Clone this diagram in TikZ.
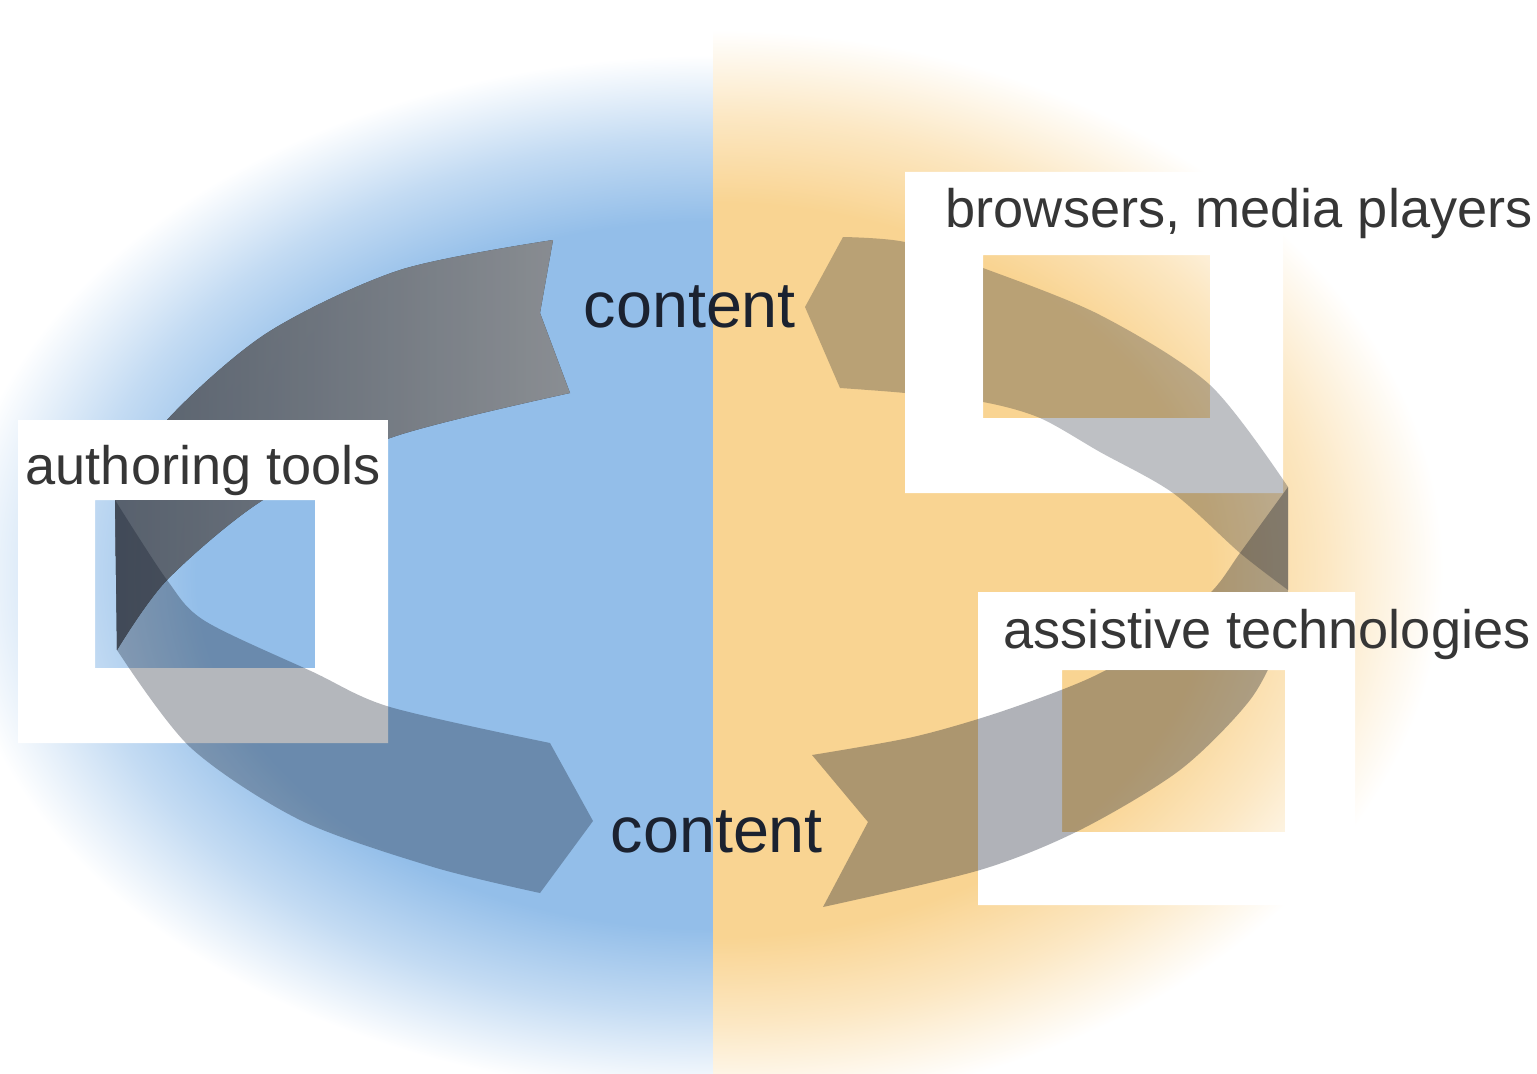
\documentclass[tikz,border=0pt]{standalone}
\usepackage{fontspec}
\setmainfont{Liberation Sans}
\usetikzlibrary{positioning}

\definecolor{bgblue}{HTML}{93BEE9}
\definecolor{bgorange}{HTML}{F9D492}
\definecolor{bandgray}{HTML}{101828}
\definecolor{bendgray}{HTML}{646E7C}
\definecolor{tailgray}{HTML}{A3A6AA}
\definecolor{labeltext}{HTML}{363636}
\definecolor{contenttext}{HTML}{1B2230}

\pgfdeclareradialshading{blueglow}{\pgfpoint{0bp}{0bp}}{color(0bp)=(bgblue); color(17bp)=(bgblue); color(21bp)=(bgblue!55!white); color(25bp)=(white); color(50bp)=(white)}
\pgfdeclareradialshading{orangeglow}{\pgfpoint{0bp}{0bp}}{color(0bp)=(bgorange); color(17bp)=(bgorange); color(21bp)=(bgorange!55!white); color(25bp)=(white); color(50bp)=(white)}

\tikzset{
  boxtext/.style={anchor=base west, inner sep=0pt, text=labeltext, font=\fontsize{15.4}{18}\selectfont},
  flowtext/.style={anchor=base west, inner sep=0pt, text=contenttext, font=\fontsize{18.4}{22}\selectfont},
  ribbon/.style={fill=bandgray, fill opacity=#1},
}

\begin{document}
\begin{tikzpicture}[x=0.01cm, y=-0.01cm]
\useasboundingbox (0,0) rectangle (1537,1073);

% background, blue half and orange half
\begin{scope}
\clip (0,0) rectangle (713,1073);
\shade[shading=blueglow] (-47,55) rectangle (1473,1095);
\end{scope}
\begin{scope}
\clip (713,0) rectangle (1537,1073);
\shade[shading=orangeglow] (-17,30) rectangle (1443,1110);
\end{scope}

% white frames with windows
\fill[white, even odd rule] (18,420) rectangle (388,743) (95,500) rectangle (315,668);
\fill[white, even odd rule] (905,172) rectangle (1283,493) (983,255) rectangle (1210,418);
\fill[white, even odd rule] (978,592) rectangle (1355,905) (1062,670) rectangle (1285,832);

% left ribbon
\fill[left color=bendgray, right color=tailgray, fill opacity=0.82]
  (553,240) -- (540,313) -- (570,393)
  -- plot[smooth] coordinates {(570,393) (393,437) (263,500) (167,580) (117,650)}
  -- (115,500)
  -- plot[smooth] coordinates {(115,500) (167,420) (267,333) (400,270) (553,240)}
  -- cycle;
\fill[ribbon=0.31]
  (550,743) -- (593,821) -- (540,893)
  -- plot[smooth] coordinates {(540,893) (433,867) (300,820) (190,747) (117,650)}
  -- (115,500)
  -- plot[smooth] coordinates {(115,500) (167,580) (205,621) (313,672) (390,707) (550,743)}
  -- cycle;

% right ribbon
\fill[ribbon=0.27]
  (843,237) -- (805,307) -- (840,388)
  -- plot[smooth] coordinates {(840,388) (905,393) (983,402) (1040,418) (1100,452) (1173,493) (1240,553) (1288,590)}
  -- (1288,487)
  -- plot[smooth] coordinates {(1288,487) (1210,385) (1100,315) (983,268) (905,242) (843,237)}
  -- cycle;
\fill[ribbon=0.33]
  (812,755) -- (868,822) -- (823,907)
  -- plot[smooth] coordinates {(823,907) (980,870) (1080,830) (1180,770) (1250,700) (1280,640) (1288,590)}
  -- (1288,487)
  -- plot[smooth] coordinates {(1288,487) (1240,553) (1213,590) (1160,638) (1090,678) (1000,712) (913,737) (812,755)}
  -- cycle;

% label strips cover the ribbons
\fill[white] (18,420) rectangle (388,500);
\fill[white] (905,172) rectangle (1283,255);
\fill[white] (905,255) rectangle (983,418);
\fill[white] (978,592) rectangle (1355,670);

\path (25,484) node[boxtext] (authoring) {authoring tools};
\path (945,228) node[boxtext] (browsers) {browsers, media players};
\path (1003,648) node[boxtext] (assistive) {assistive technologies};

\path (583,327) node[flowtext] (content_top) {content};
\path (610,852) node[flowtext] (content_bottom) {content};
\end{tikzpicture}
\end{document}
